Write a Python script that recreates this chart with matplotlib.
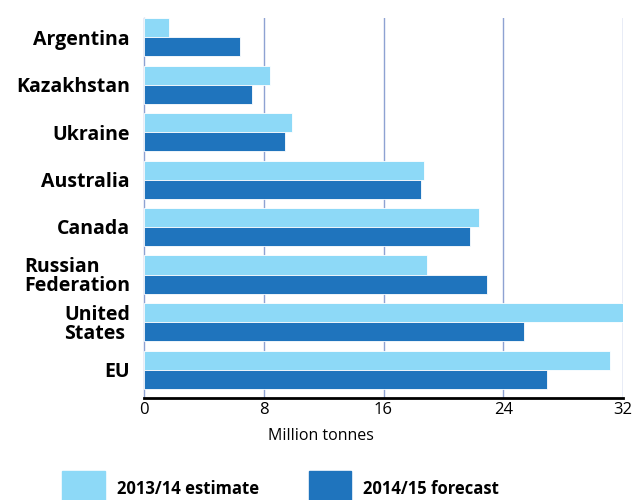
import numpy as np
import matplotlib.pyplot as plt
from matplotlib.patches import Rectangle

# Wheat exports by country, million tonnes
countries = ['Argentina', 'Kazakhstan', 'Ukraine', 'Australia', 'Canada',
             'Russian\nFederation', 'United\nStates', 'EU']
estimate_2013 = [1.7, 8.4, 9.9, 18.7, 22.4, 18.9, 32.0, 31.1]
forecast_2014 = [6.4, 7.2, 9.4, 18.5, 21.8, 22.9, 25.4, 26.9]
xticks = [0, 8, 16, 24, 32]

light = '#8dd9f7'
dark = '#1f74bd'
grid_col = '#8ea2d2'

plt.rcParams['font.family'] = ['Open Sans', 'DejaVu Sans']

fig = plt.figure(figsize=(6.33, 5.0), dpi=100)
ax = fig.add_axes([144/633, 102/500, 479/633, 380/500])

y = np.arange(len(countries))
h = 0.4
ax.barh(y - h/2, estimate_2013, height=h, color=light, edgecolor='white',
        linewidth=0.6, zorder=3)
ax.barh(y + h/2, forecast_2014, height=h, color=dark, edgecolor='white',
        linewidth=0.6, zorder=3)

ax.set_xlim(0, 32)
ax.set_ylim(7.6, -0.4)
ax.set_xticks(xticks)
ax.set_xticklabels([str(t) for t in xticks], fontsize=12)
ax.set_yticks(y)
ax.set_yticklabels(countries, fontsize=14, fontweight='bold', linespacing=0.95,
                   multialignment='left')
ax.tick_params(axis='y', length=0, pad=10)
ax.tick_params(axis='x', length=0, pad=3)

for t in xticks[1:]:
    ax.axvline(t, color=grid_col, linewidth=1.0, zorder=1)

for s in ['top', 'right']:
    ax.spines[s].set_visible(False)
ax.spines['left'].set_color(grid_col)
ax.spines['left'].set_linewidth(1.0)
ax.spines['bottom'].set_color('black')
ax.spines['bottom'].set_linewidth(2.0)
ax.spines['bottom'].set_zorder(4)

ax.set_xlabel('Million tonnes', fontsize=11.5, labelpad=6)
ax.xaxis.set_label_coords(0.37, -0.08)

# legend drawn as figure patches
fig.patches.append(Rectangle((62/633, -0.01), 43/633, 29/500 + 0.01,
                             transform=fig.transFigure, color=light))
fig.patches.append(Rectangle((309/633, -0.01), 42/633, 29/500 + 0.01,
                             transform=fig.transFigure, color=dark))
fig.text(117/633, 1 - 489/500, '2013/14 estimate', fontsize=12,
         fontweight='bold', va='center', ha='left')
fig.text(363/633, 1 - 489/500, '2014/15 forecast', fontsize=12,
         fontweight='bold', va='center', ha='left')

fig.savefig('out.png', dpi=100)
